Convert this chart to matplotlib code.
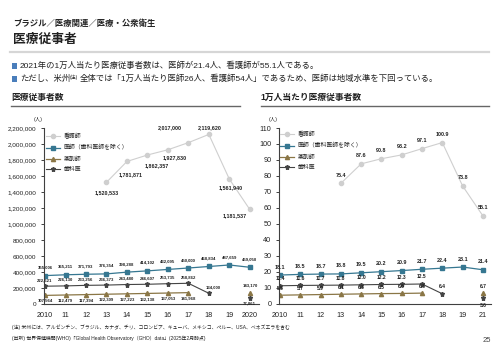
import matplotlib
matplotlib.use("Agg")
import matplotlib.pyplot as plt
import numpy as np
from matplotlib.lines import Line2D
from matplotlib.patches import Rectangle
from matplotlib.ticker import FuncFormatter

plt.rcParams["font.family"] = ["Liberation Sans", "Noto Sans CJK JP", "DejaVu Sans"]

W, H = 500, 353
nan = np.nan

# left panel: headcount
years = [2010, 2011, 2012, 2013, 2014, 2015, 2016, 2017, 2018, 2019, 2020]
year_labels = ["2010", "11", "12", "13", "14", "15", "16", "17", "18", "19", "2020"]
nurses = [nan, nan, nan, 1520533, 1781871, 1862357, 1927830, 2017000, 2119620, 1561940, 1181537]
doctors = [355006, 365211, 371793, 376354, 398288, 414102, 432095, 450000, 468834, 487659, 459050]
pharmacists = [107564, 112479, 117394, 122309, 127223, 132138, 137053, 141968, nan, nan, 143170]
dentists = [222621, 226130, 233256, 236373, 243480, 246607, 253735, 258862, 134000, nan, 77861]

# right panel: per 10,000 people
rate_labels = ["2010", "11", "12", "13", "14", "15", "16", "17", "18", "19", "21"]
rate_nurses = [nan, nan, nan, 75.4, 87.6, 90.8, 93.2, 97.1, 100.9, 73.8, 55.1]
rate_doctors = [18.1, 18.5, 18.7, 18.8, 19.5, 20.2, 20.9, 21.7, 22.4, 23.1, 21.4]
rate_pharmacists = [5.5, 5.7, 5.9, 6.1, 6.3, 6.5, 6.6, 6.8, nan, nan, 6.7]
rate_dentists = [11.4, 11.6, 11.7, 11.8, 12.0, 12.2, 12.3, 12.5, 6.4, nan, 3.6]

series_names = ["看護師", "医師（歯科医師を除く）", "薬剤師", "歯科医"]

COL = {
    "nurse": "#cfcfcf",
    "doctor": "#367791",
    "pharm": "#8a7646",
    "dentist": "#444444",
    "text": "#222222",
    "axis": "#404040",
}
STYLE = {
    "nurse": dict(color=COL["nurse"], marker="o", ms=3.0, lw=0.8),
    "doctor": dict(color=COL["doctor"], marker="s", ms=3.1, lw=0.9),
    "pharm": dict(color=COL["pharm"], marker="^", ms=3.0, lw=0.9),
    "dentist": dict(color=COL["dentist"], marker="*", ms=3.6, lw=0.8),
}

# label offsets (pixels) for the nurse line, left panel
nurse_off_left = [None, None, None, (0, -10), (4, -13), (9, -11), (7, -8), (-19, 15), (1, 7), (1, -9), (-15, -6)]


def fx(x):
    return x / W


def fy(y):
    return 1 - y / H


def label(ax, x, y, s, dx, dy, size=3.6):
    ax.annotate(s, (x, y), xytext=(dx, dy), textcoords="offset pixels",
                ha="center", va="center", fontsize=size, fontweight="bold",
                color=COL["text"], annotation_clip=False)


def style_axes(ax, ysize):
    for side in ("top", "right"):
        ax.spines[side].set_visible(False)
    for side in ("left", "bottom"):
        ax.spines[side].set_color(COL["axis"])
        ax.spines[side].set_linewidth(0.8)
    ax.tick_params(axis="y", direction="out", length=2.5, width=0.7, pad=3,
                   labelsize=ysize, colors=COL["axis"], labelcolor=COL["text"])
    ax.tick_params(axis="x", length=0, pad=6, labelsize=5.2, labelcolor=COL["text"])
    ax.patch.set_alpha(0)


fig = plt.figure(figsize=(W / 100, H / 100), dpi=100)

# ---- header ----
fig.text(fx(13), fy(24), "ブラジル／医療関連／医療・公衆衛生", fontsize=6, fontweight="bold",
         va="center", color=COL["text"])
fig.text(fx(13), fy(40), "医療従事者", fontsize=9.2, fontweight="bold", va="center", color=COL["text"])
fig.add_artist(Line2D([fx(10), fx(489)], [fy(52), fy(52)], color="#d6d6d6", lw=1.6))

for yb in (66, 79):
    fig.add_artist(Rectangle((fx(11.5), fy(yb + 2.8)), 5.5 / W, 5.5 / H, color="#4a7ebb", lw=0))
fig.text(fx(20), fy(66), "2021年の1万人当たり医療従事者数は、医師が21.4人、看護師が55.1人である。",
         fontsize=6, va="center", color=COL["text"])

renderer = fig.canvas.get_renderer()
t1 = fig.text(fx(20), fy(79), "ただし、米州", fontsize=6, va="center", color=COL["text"])
bb = t1.get_window_extent(renderer)
t2 = fig.text(bb.x1 / W, fy(77), "(注)", fontsize=3.6, va="center", color=COL["text"])
bb2 = t2.get_window_extent(renderer)
fig.text(bb2.x1 / W + 0.002, fy(79), "全体では「1万人当たり医師26人、看護師54人」であるため、医師は地域水準を下回っている。",
         fontsize=6, va="center", color=COL["text"])

fig.text(fx(11), fy(97), "医療従事者数", fontsize=6.3, fontweight="bold", va="center", color=COL["text"])
fig.add_artist(Line2D([fx(11), fx(240)], [fy(106), fy(106)], color="#666666", lw=1.0))
fig.text(fx(260), fy(97), "1万人当たり医療従事者数", fontsize=6.3, fontweight="bold", va="center",
         color=COL["text"])
fig.add_artist(Line2D([fx(261), fx(489)], [fy(106), fy(106)], color="#666666", lw=1.0))

# ---- left panel ----
axL = fig.add_axes([fx(44), fy(304), 215 / W, 176 / H])
axL.plot(years, nurses, **STYLE["nurse"], mec=COL["nurse"])
axL.plot(years, doctors, **STYLE["doctor"])
axL.plot(years, pharmacists, **STYLE["pharm"])
axL.plot(years, dentists, **STYLE["dentist"])
axL.set_xlim(2009.95, 2020.45)
axL.set_ylim(0, 2200000)
axL.set_yticks(np.arange(0, 2200001, 200000))
axL.yaxis.set_major_formatter(FuncFormatter(lambda v, _p: f"{v:,.0f}"))
axL.set_xticks(years)
axL.set_xticklabels(year_labels)
style_axes(axL, 4.6)

for i, x in enumerate(years):
    if not np.isnan(nurses[i]):
        dx, dy = nurse_off_left[i]
        label(axL, x, nurses[i], f"{nurses[i]:,.0f}", dx, dy, size=3.9)
    label(axL, x, doctors[i], f"{doctors[i]:,.0f}", 0, 8, size=3.1)
    if not np.isnan(dentists[i]):
        if i == 10:
            label(axL, x, dentists[i], f"{dentists[i]:,.0f}", 0, -6, size=3.1)
        elif i == 8:
            label(axL, x, dentists[i], f"{dentists[i]:,.0f}", 4, 6, size=3.1)
        else:
            label(axL, x, dentists[i], f"{dentists[i]:,.0f}", 0, 6, size=3.1)
    if not np.isnan(pharmacists[i]):
        if i == 10:
            label(axL, x, pharmacists[i], f"{pharmacists[i]:,.0f}", 1, 7, size=3.1)
        else:
            label(axL, x, pharmacists[i], f"{pharmacists[i]:,.0f}", 0, -5.5, size=3.1)

fig.text(fx(38), fy(119), "(人)", fontsize=3.8, ha="center", va="center", color=COL["text"])

# ---- right panel ----
pos = np.arange(len(rate_labels))
axR = fig.add_axes([fx(279), fy(304), 212 / W, 176 / H])
axR.plot(pos, rate_nurses, **STYLE["nurse"], mec=COL["nurse"])
axR.plot(pos, rate_doctors, **STYLE["doctor"])
axR.plot(pos, rate_pharmacists, **STYLE["pharm"])
axR.plot(pos, rate_dentists, **STYLE["dentist"])
axR.set_xlim(-0.05, 10.4)
axR.set_ylim(0, 110)
axR.set_yticks(np.arange(0, 111, 10))
axR.set_xticks(pos)
axR.set_xticklabels(rate_labels)
style_axes(axR, 5.2)

for i, x in enumerate(pos):
    if not np.isnan(rate_nurses[i]):
        label(axR, x, rate_nurses[i], f"{rate_nurses[i]:.1f}", 0, 8, size=3.9)
    label(axR, x, rate_doctors[i], f"{rate_doctors[i]:.1f}", 0, 8, size=3.9)
    if not np.isnan(rate_dentists[i]):
        dy = -7 if i == 10 else 7
        label(axR, x, rate_dentists[i], f"{rate_dentists[i]:.1f}", 0, dy, size=3.6)
    if not np.isnan(rate_pharmacists[i]):
        label(axR, x, rate_pharmacists[i], f"{rate_pharmacists[i]:.1f}", 0, 6.5, size=3.6)

fig.text(fx(273), fy(119), "(人)", fontsize=3.8, ha="center", va="center", color=COL["text"])

# ---- legends ----
handles = [
    Line2D([], [], **STYLE["nurse"], mec=COL["nurse"]),
    Line2D([], [], **STYLE["doctor"]),
    Line2D([], [], **STYLE["pharm"]),
    Line2D([], [], **STYLE["dentist"]),
]
for anchor in ((fx(46), fy(133)), (fx(280), fy(131))):
    fig.legend(handles, series_names, loc="upper left", bbox_to_anchor=anchor,
               bbox_transform=fig.transFigure, frameon=False, fontsize=4.2,
               handlelength=2.4, handletextpad=0.6, labelspacing=0.95, borderpad=0,
               borderaxespad=0, labelcolor=COL["text"])

# ---- footnotes ----
fig.text(fx(12), fy(327), "(注) 米州には、アルゼンチン、ブラジル、カナダ、チリ、コロンビア、キューバ、メキシコ、ペルー、USA、ベネズエラを含む",
         fontsize=3.5, va="center", color=COL["text"])
fig.text(fx(12), fy(338), "(出所) 世界保健機関(WHO)「Global Health Observatory（GHO）data」(2025年2月時点)",
         fontsize=3.5, va="center", color=COL["text"])
fig.text(fx(487), fy(340), "25", fontsize=5.5, ha="center", va="center", color="#444444")

fig.savefig("out.png", dpi=100, facecolor="white")
